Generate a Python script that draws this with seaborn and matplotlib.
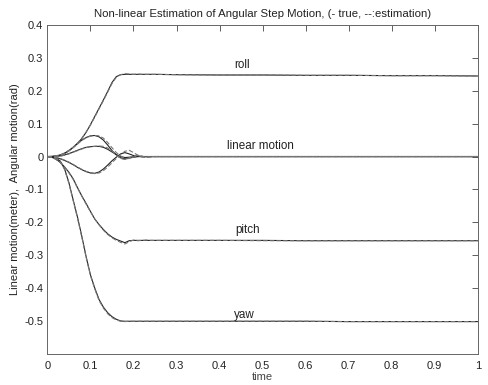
import numpy as np
import pandas as pd
import matplotlib
matplotlib.use("Agg")
import matplotlib.pyplot as plt
import seaborn as sns

# ---------------- data ----------------
time = [0.00, 0.01, 0.02, 0.03, 0.04, 0.05, 0.06, 0.07, 0.08, 0.09,
        0.10, 0.11, 0.12, 0.13, 0.14, 0.15, 0.16, 0.17, 0.18, 0.19,
        0.20, 0.21, 0.22, 0.23, 0.24, 0.25, 0.30, 0.40, 0.50, 0.60,
        0.70, 0.80, 0.90, 1.00]

roll_true = [0.000, 0.0005, 0.002, 0.005, 0.010, 0.018, 0.028, 0.040, 0.055, 0.074,
             0.097, 0.122, 0.147, 0.172, 0.198, 0.225, 0.243, 0.249, 0.250, 0.250,
             0.250, 0.250, 0.250, 0.250, 0.250, 0.250, 0.249, 0.248, 0.248, 0.247,
             0.247, 0.246, 0.246, 0.245]
roll_est = [0.000, 0.0005, 0.002, 0.005, 0.011, 0.019, 0.029, 0.041, 0.056, 0.075,
            0.096, 0.120, 0.145, 0.170, 0.196, 0.222, 0.241, 0.249, 0.252, 0.251,
            0.250, 0.251, 0.250, 0.250, 0.250, 0.250, 0.249, 0.248, 0.248, 0.247,
            0.247, 0.246, 0.246, 0.245]

pitch_true = [0.000, -0.002, -0.008, -0.018, -0.032, -0.048, -0.068, -0.095, -0.120, -0.143,
              -0.167, -0.190, -0.207, -0.222, -0.235, -0.245, -0.252, -0.257, -0.262, -0.256,
              -0.255, -0.255, -0.255, -0.255, -0.255, -0.255, -0.255, -0.255, -0.255, -0.256,
              -0.256, -0.256, -0.256, -0.256]
pitch_est = [0.000, -0.002, -0.009, -0.019, -0.033, -0.050, -0.070, -0.096, -0.121, -0.145,
             -0.168, -0.190, -0.208, -0.224, -0.237, -0.247, -0.255, -0.261, -0.266, -0.259,
             -0.254, -0.256, -0.255, -0.254, -0.255, -0.255, -0.255, -0.255, -0.256, -0.256,
             -0.256, -0.256, -0.256, -0.256]

yaw_true = [0.000, -0.001, -0.005, -0.014, -0.038, -0.080, -0.133, -0.185, -0.243, -0.305,
            -0.360, -0.400, -0.435, -0.458, -0.475, -0.487, -0.495, -0.500, -0.501, -0.501,
            -0.501, -0.501, -0.501, -0.501, -0.501, -0.501, -0.501, -0.501, -0.501, -0.501,
            -0.502, -0.502, -0.502, -0.502]
yaw_est = [0.000, -0.001, -0.006, -0.016, -0.040, -0.082, -0.135, -0.188, -0.246, -0.307,
           -0.362, -0.403, -0.438, -0.461, -0.478, -0.490, -0.497, -0.501, -0.502, -0.501,
           -0.501, -0.501, -0.501, -0.501, -0.501, -0.501, -0.501, -0.501, -0.501, -0.501,
           -0.502, -0.502, -0.502, -0.502]

linA_true = [0.000, 0.000, 0.001, 0.004, 0.010, 0.018, 0.028, 0.040, 0.050, 0.058,
             0.063, 0.064, 0.060, 0.050, 0.035, 0.018, 0.005, -0.004, -0.007, -0.005,
             -0.002, 0.000, 0.000, 0.000, 0.000, 0.000, 0.000, 0.000, 0.000, 0.000,
             0.000, 0.000, 0.000, 0.000]
linA_est = [0.000, 0.000, 0.001, 0.004, 0.009, 0.017, 0.027, 0.038, 0.049, 0.057,
            0.062, 0.064, 0.063, 0.056, 0.043, 0.027, 0.012, 0.002, -0.007, -0.006,
            -0.002, 0.002, 0.001, -0.001, 0.000, 0.000, 0.000, 0.000, 0.000, 0.000,
            0.000, 0.000, 0.000, 0.000]

linB_true = [0.000, 0.000, 0.0005, 0.002, 0.005, 0.009, 0.014, 0.019, 0.024, 0.028,
             0.030, 0.031, 0.031, 0.028, 0.022, 0.014, 0.006, 0.000, -0.003, -0.002,
             -0.001, 0.000, 0.000, 0.000, 0.000, 0.000, 0.000, 0.000, 0.000, 0.000,
             0.000, 0.000, 0.000, 0.000]
linB_est = [0.000, -0.001, -0.001, 0.001, 0.004, 0.008, 0.013, 0.018, 0.023, 0.027,
            0.030, 0.031, 0.032, 0.031, 0.026, 0.017, 0.004, -0.006, -0.009, -0.004,
            0.002, 0.004, 0.001, -0.002, -0.001, 0.000, 0.000, 0.000, 0.000, 0.000,
            0.000, 0.000, 0.000, 0.000]

linC_true = [0.000, -0.001, -0.003, -0.007, -0.012, -0.018, -0.025, -0.033, -0.040, -0.046,
             -0.050, -0.051, -0.047, -0.038, -0.026, -0.013, -0.002, 0.008, 0.012, 0.008,
             0.003, 0.001, 0.000, 0.000, 0.000, 0.000, 0.000, 0.000, 0.000, 0.000,
             0.000, 0.000, 0.000, 0.000]
linC_est = [0.000, -0.001, -0.003, -0.006, -0.011, -0.017, -0.024, -0.032, -0.039, -0.045,
            -0.049, -0.052, -0.050, -0.043, -0.032, -0.019, -0.006, 0.006, 0.016, 0.019,
            0.012, 0.004, -0.002, -0.003, -0.001, 0.000, 0.000, 0.000, 0.000, 0.000,
            0.000, 0.000, 0.000, 0.000]

series_true = [roll_true, pitch_true, yaw_true, linA_true, linB_true, linC_true]
series_est = [roll_est, pitch_est, yaw_est, linA_est, linB_est, linC_est]

labels = ["roll", "linear motion", "pitch", "yaw"]
label_x = [0.452, 0.496, 0.465, 0.457]
label_y = [0.268, 0.022, -0.233, -0.490]

x_ticks = [0, 0.1, 0.2, 0.3, 0.4, 0.5, 0.6, 0.7, 0.8, 0.9, 1]
x_ticklabels = ["0", "0.1", "0.2", "0.3", "0.4", "0.5", "0.6", "0.7", "0.8", "0.9", "1"]
y_ticks = [-0.5, -0.4, -0.3, -0.2, -0.1, 0, 0.1, 0.2, 0.3, 0.4]
y_ticklabels = ["-0.5", "-0.4", "-0.3", "-0.2", "-0.1", "0", "0.1", "0.2", "0.3", "0.4"]

title = "Non-linear Estimation of Angular Step Motion, (- true, --:estimation)"
xlabel = "time"
ylabel = "Linear motion(meter),  Angular motion(rad)"

# ---------------- plotting ----------------
sns.set_style("white")
plt.rcParams["font.family"] = ["Liberation Sans", "DejaVu Sans"]

fig = plt.figure(figsize=(4.89, 3.85), dpi=100)
ax = fig.add_axes([0.097, 0.081, 0.880, 0.854])

for vals in series_true:
    sns.lineplot(x=time, y=vals, ax=ax, color="#222222", linewidth=0.8,
                 estimator=None, sort=False)
for vals in series_est:
    sns.lineplot(x=time, y=vals, ax=ax, color="#777777", linewidth=0.8,
                 linestyle=(0, (4, 2)), estimator=None, sort=False)

for lab, lx, ly in zip(labels, label_x, label_y):
    ax.text(lx, ly, lab, fontsize=8.4, ha="center", va="baseline", color="#222222")

ax.set_xlim(0, 1)
ax.set_ylim(-0.6, 0.4)
ax.set_xticks(x_ticks)
ax.set_xticklabels(x_ticklabels)
ax.set_yticks(y_ticks)
ax.set_yticklabels(y_ticklabels)
ax.tick_params(direction="in", length=4, width=0.6, labelsize=8,
               colors="#444444", labelcolor="#222222",
               top=True, right=True, pad=5)
ax.tick_params(axis="y", pad=3)
for sp in ax.spines.values():
    sp.set_visible(True)
    sp.set_color("#666666")
    sp.set_linewidth(0.7)

ax.set_title(title, fontsize=8.2, color="#222222", pad=6)
ax.set_xlabel(xlabel, fontsize=8, color="#444444", labelpad=1)
ax.set_ylabel(ylabel, fontsize=8, color="#222222", labelpad=3)

fig.savefig("out.png", dpi=100, facecolor="white")
